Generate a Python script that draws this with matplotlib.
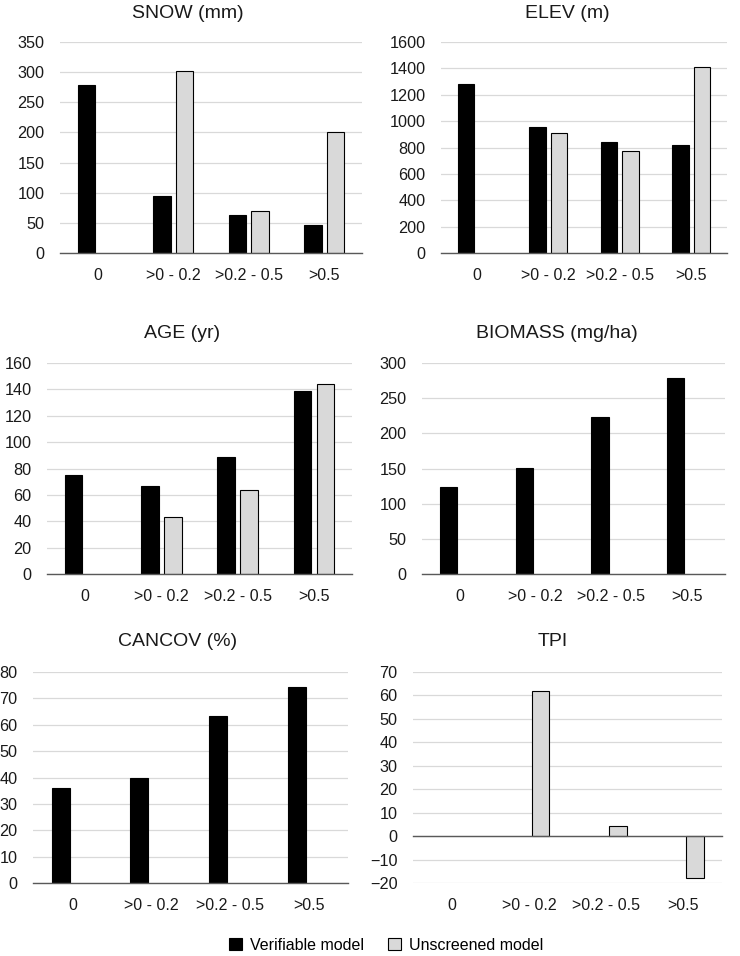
import numpy as np
import matplotlib.pyplot as plt
from matplotlib.patches import Patch

plt.rcParams["font.family"] = ["Liberation Sans", "DejaVu Sans"]

categories = ["0", ">0 - 0.2", ">0.2 - 0.5", ">0.5"]

snow_ver = [279, 94, 63, 46]
snow_uns = [np.nan, 302, 69, 200]
elev_ver = [1280, 958, 845, 822]
elev_uns = [np.nan, 913, 776, 1412]
age_ver = [75, 67, 89, 139]
age_uns = [np.nan, 43, 64, 144]
biomass_ver = [123, 151, 223, 279]
biomass_uns = [np.nan, np.nan, np.nan, np.nan]
cancov_ver = [36, 40, 63.5, 74.5]
cancov_uns = [np.nan, np.nan, np.nan, np.nan]
tpi_ver = [np.nan, np.nan, np.nan, np.nan]
tpi_uns = [np.nan, 62, 4.3, -18]

W, H = 740, 956
fig = plt.figure(figsize=(W / 100, H / 100), dpi=100)

# (title, verifiable, unscreened, y ticks, axes px box l/r/top/bottom, title px x/y)
panels = [
    ("SNOW (mm)", snow_ver, snow_uns, np.arange(0, 351, 50), (60, 362, 42, 253), (188, 14)),
    ("ELEV (m)", elev_ver, elev_uns, np.arange(0, 1601, 200), (441, 727, 42, 253), (567, 14)),
    ("AGE (yr)", age_ver, age_uns, np.arange(0, 161, 20), (47, 352, 363, 574), (182, 334)),
    ("BIOMASS (mg/ha)", biomass_ver, biomass_uns, np.arange(0, 301, 50), (422, 725, 363, 574), (557, 334)),
    ("CANCOV (%)", cancov_ver, cancov_uns, np.arange(0, 81, 10), (33, 348, 672, 883), (178, 642)),
    ("TPI", tpi_ver, tpi_uns, np.arange(-20, 71, 10), (413, 722, 672, 883), (553, 641)),
]

x = np.arange(len(categories))
bw = 0.23
off = 0.15

for title, ver, uns, yt, (l, r, t, b), (tx, ty) in panels:
    ax = fig.add_axes([l / W, 1 - b / H, (r - l) / W, (b - t) / H])
    ax.bar(x - off, ver, bw, color="black", edgecolor="black", linewidth=0.8, zorder=3)
    ax.bar(x + off, uns, bw, color="#d9d9d9", edgecolor="black", linewidth=0.8, zorder=3)
    ax.set_xlim(-0.5, 3.5)
    ax.set_ylim(yt[0], yt[-1])
    ax.set_yticks(yt)
    ax.set_xticks(x)
    ax.set_xticklabels(categories)
    for s in ax.spines.values():
        s.set_visible(False)
    ax.grid(axis="y", color="#d9d9d9", linewidth=0.9, zorder=0)
    ax.axhline(0, color="#595959", linewidth=1.0, zorder=4, clip_on=False)
    ax.tick_params(axis="y", length=0, pad=11, labelsize=11.7, labelcolor="#1a1a1a")
    ax.tick_params(axis="x", length=0, pad=11, labelsize=11.5, labelcolor="#1a1a1a")
    fig.text(tx / W, 1 - ty / H, title, ha="center", va="center", fontsize=14, color="#1a1a1a")

handles = [
    Patch(facecolor="black", edgecolor="black", linewidth=0.8),
    Patch(facecolor="#d9d9d9", edgecolor="black", linewidth=0.8),
]
fig.legend(handles, ["Verifiable model", "Unscreened model"], loc="center",
           bbox_to_anchor=(386 / W, 1 - 945 / H), ncol=2, frameon=False, fontsize=11.5,
           handlelength=0.8, handleheight=0.8, handletextpad=0.5, columnspacing=1.5)

fig.savefig("out.png", dpi=100)
